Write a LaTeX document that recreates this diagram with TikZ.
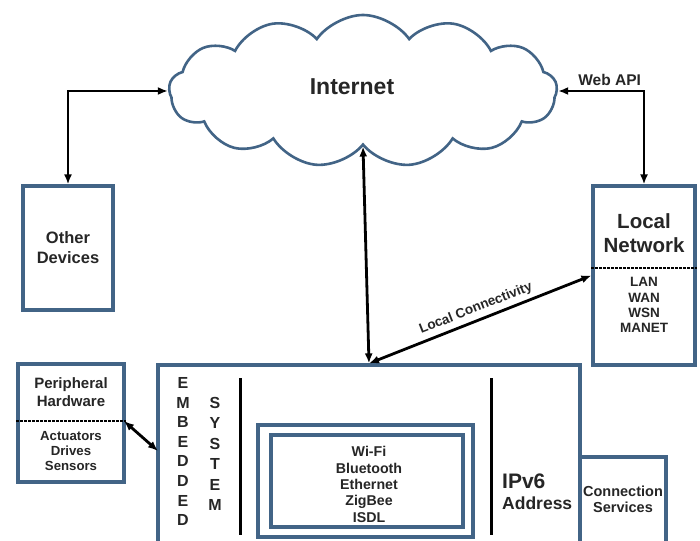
\documentclass[tikz,border=0pt]{standalone}
\usepackage{fontspec}
\setmainfont{Liberation Sans}
\usetikzlibrary{shapes.symbols,arrows.meta,calc}
\definecolor{boxc}{RGB}{66,100,134}
\tikzset{
  boxn/.style={draw=boxc, line width=3.2pt, fill=white, inner sep=0pt},
  arr/.style={line width=2.8pt, {Latex[length=10pt,width=8pt]}-{Latex[length=10pt,width=8pt]}},
  sep/.style={line width=1.4pt, dash pattern=on 2.5pt off 1.5pt},
  vline/.style={line width=3pt, black},
  txt/.style={font=\bfseries, align=center, inner sep=0pt, text=black!85},
}
\begin{document}
\begin{tikzpicture}[x=1pt,y=-1pt]
\clip (0,0) rectangle (700,540);
\fill[white] (0,0) rectangle (700,540);

% cloud
\node[cloud, cloud puffs=13, cloud puff arc=110, aspect=2.6, draw=boxc, line width=2.6pt,
      minimum width=388pt, minimum height=152pt, inner sep=0pt] (cloud) at (363,91) {};
\node[txt, font=\bfseries\fontsize{23}{26}\selectfont] (inet) at (352,87) {Internet};

% boxes
\node[boxn, minimum width=90pt, minimum height=124pt] (other) at (68,248) {};
\node[txt, font=\bfseries\fontsize{16.5}{20}\selectfont] (otherT) at (68,248) {Other\\Devices};

\node[boxn, minimum width=102pt, minimum height=179pt] (localnet) at (644,275.5) {};
\node[txt, font=\bfseries\fontsize{20.5}{24.5}\selectfont] (lnT) at (644,233) {Local\\Network};
\draw[sep] (localnet.west |- 0,268) -- (localnet.east |- 0,268);
\node[txt, font=\bfseries\fontsize{13.5}{15.2}\selectfont] (lnL) at (644,305) {LAN\\WAN\\WSN\\MANET};

\node[boxn, minimum width=106pt, minimum height=118pt] (periph) at (71,423) {};
\node[txt, font=\bfseries\fontsize{15}{18}\selectfont] (phT) at (71,392) {Peripheral\\Hardware};
\draw[sep] (periph.west |- 0,421) -- (periph.east |- 0,421);
\node[txt, font=\bfseries\fontsize{13.2}{15}\selectfont] (phL) at (71,451) {Actuators\\Drives\\Sensors};

\node[boxn, minimum width=422pt, minimum height=195pt] (emb) at (369,462.5) {};
\node[boxn, minimum width=86pt, minimum height=103pt] (conn) at (623,508.5) {};
\node[txt, font=\bfseries\fontsize{14.5}{16}\selectfont] (connT) at (623,499) {Connection\\Services};

\node[txt, font=\bfseries\fontsize{16}{19.6}\selectfont] (embT) at (183,451.5) {E\\M\\B\\E\\D\\D\\E\\D};
\node[txt, font=\bfseries\fontsize{16}{20.4}\selectfont] (sysT) at (215,454) {S\\Y\\S\\T\\E\\M};
\draw[vline] (240,378) -- (240,535);
\draw[vline] (491,378) -- (491,535);

\node[boxn, minimum width=215pt, minimum height=112pt] (wout) at (365.5,481) {};
\node[boxn, minimum width=192pt, minimum height=92pt] (win) at (367,481) {};
\node[txt, font=\bfseries\fontsize{14.2}{16.3}\selectfont] (wT) at (369,484.5) {Wi-Fi\\Bluetooth\\Ethernet\\ZigBee\\ISDL};

\node[txt, anchor=west, font=\bfseries\fontsize{21}{24}\selectfont] (ipv6) at (502,481) {IPv6};
\node[txt, anchor=west, font=\bfseries\fontsize{17.5}{20}\selectfont] (addr) at (502,503) {Address};

% connectors
\coordinate (embL) at (158,451);
\coordinate (periphR) at (124,421);
\draw[arr] (cloud.west) -| (other.north);
\draw[arr] (cloud.east) -| node[pos=0.3, above=4pt, txt, font=\bfseries\fontsize{15.5}{18}\selectfont] (webapi) {Web API} (localnet.north);
\draw[arr] (cloud.south) -- (emb.north);
\draw[arr] (emb.north) -- node[sloped, above=4pt, txt, font=\bfseries\fontsize{13.5}{16}\selectfont] (lc) {Local Connectivity} (localnet.west);
\draw[arr] (periphR) -- (embL);
\end{tikzpicture}
\end{document}
